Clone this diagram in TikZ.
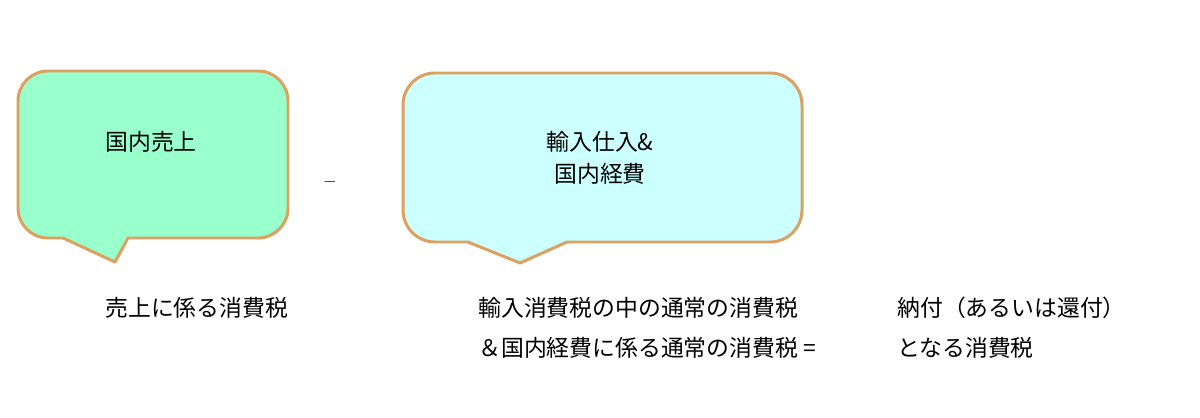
\documentclass[tikz,border=0pt]{standalone}
\usepackage{fontspec}
\setmainfont{Noto Sans CJK JP}
\definecolor{bordo}{RGB}{222,160,96}
\definecolor{verde}{RGB}{153,255,204}
\definecolor{ciano}{RGB}{204,255,255}
\tikzset{
	fumetto/.style = {draw = bordo, line width = 1.7pt, line join = round},
	testo/.style = {font = \fontsize{13}{16}\selectfont, inner sep = 0pt}
}
\begin{document}
\begin{tikzpicture}
		\useasboundingbox (0,0) rectangle (24,8.34);
		\draw [fumetto, fill = verde] (1.26,3.58) -- (2.30,3.10) -- (2.56,3.58) -- (5.16,3.58) arc[start angle = -90, end angle = 0, radius = 0.6] -- (5.76,6.32) arc[start angle = 0, end angle = 90, radius = 0.6] -- (0.96,6.92) arc[start angle = 90, end angle = 180, radius = 0.6] -- (0.36,4.18) arc[start angle = 180, end angle = 270, radius = 0.6] -- cycle;
		\draw [fumetto, fill = ciano] (9.36,3.50) -- (10.40,3.08) -- (11.34,3.50) -- (15.40,3.50) arc[start angle = -90, end angle = 0, radius = 0.64] -- (16.04,6.24) arc[start angle = 0, end angle = 90, radius = 0.64] -- (8.70,6.88) arc[start angle = 90, end angle = 180, radius = 0.64] -- (8.06,4.14) arc[start angle = 180, end angle = 270, radius = 0.64] -- cycle;
		\node (vendite) [testo, anchor = center] at (3.02,5.50) {国内売上};
		\node (acquisti) [testo, anchor = center, align = center] at (12.0,5.18) {輸入仕入\&\\[2pt]国内経費};
		\node (meno) [inner sep = 0pt, anchor = center] at (6.60,4.70) {$-$};
		\node (imposta1) [testo, anchor = west] at (2.10,2.18) {売上に係る消費税};
		\node (imposta2) [testo, anchor = west] at (9.56,2.18) {輸入消費税の中の通常の消費税};
		\node (imposta3) [testo, anchor = west] at (9.56,1.38) {＆国内経費に係る通常の消費税 =};
		\node (saldo1) [testo, anchor = west] at (17.94,2.18) {納付（あるいは還付）};
		\node (saldo2) [testo, anchor = west] at (17.94,1.38) {となる消費税};
	\end{tikzpicture}
\end{document}
